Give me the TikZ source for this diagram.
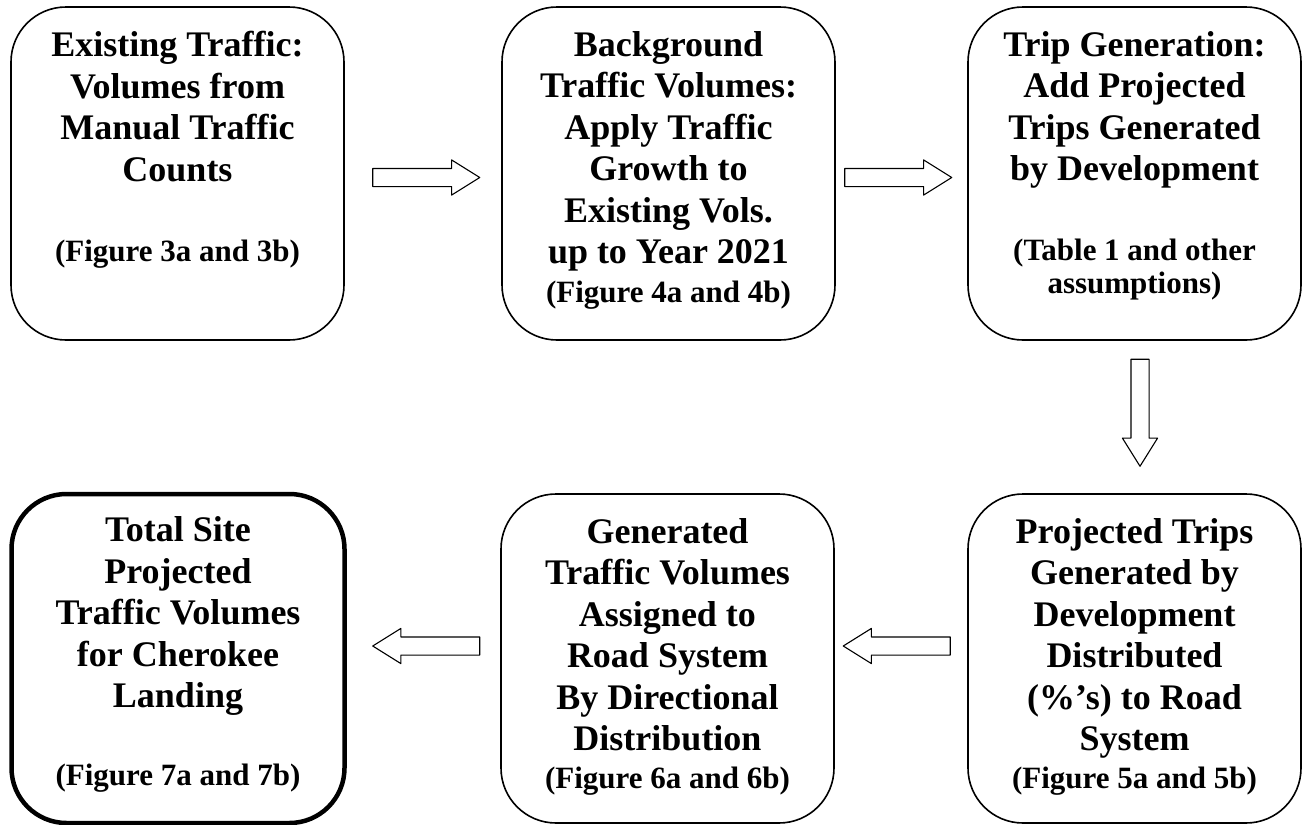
\documentclass[tikz,border=0pt]{standalone}
\usepackage{fontspec}
\setmainfont{Liberation Serif}
\usepackage{tikz}
\usetikzlibrary{shapes.arrows,positioning}
\newcommand{\mainsize}{\fontsize{36}{41.5}\selectfont\bfseries}
\newcommand{\figsize}{\fontsize{31}{36}\selectfont}
\tikzset{
  every picture/.style={line join=round, line cap=round},
  stepbox/.style={draw, rounded corners=55pt, line width=1.6pt, minimum width=333pt, minimum height=333pt, inner sep=0pt},
  lowbox/.style={stepbox, minimum height=329pt},
  finalbox/.style={lowbox, line width=4.5pt},
  boxtext/.style={align=center, font=\mainsize, inner sep=0pt},
  blockarrow/.style={draw, line width=1.1pt, single arrow, single arrow head extend=8.5pt,
    single arrow tip angle=64, inner xsep=0pt, inner ysep=8.5pt, minimum height=107pt},
}

\begin{document}
\begin{tikzpicture}[x=1pt,y=1pt]
\useasboundingbox (0,0) rectangle (1302,-825);
% top row
\node[stepbox] (exist) at (177.5,-173.5) {};
\node[stepbox] (backgr) at (668.5,-173.5) {};
\node[stepbox] (tripgen) at (1134.5,-173.5) {};
% bottom row
\node[lowbox] (distrib) at (1134.5,-658.5) {};
\node[lowbox] (assign) at (667.5,-658.5) {};
\node[finalbox] (total) at (178,-658.5) {};

\node[boxtext, below=25pt of exist.north] (exist-t) {Existing Traffic:\\ Volumes from\\ Manual Traffic\\ Counts\\[38.5pt] {\figsize (Figure 3a and 3b)}};
\node[boxtext, below=25pt of backgr.north] (backgr-t) {Background\\ Traffic Volumes:\\ Apply Traffic\\ Growth to\\ Existing Vols.\\ up to Year 2021\\[-2.5pt] {\figsize (Figure 4a and 4b)}};
\node[boxtext, below=25pt of tripgen.north] (tripgen-t) {Trip Generation:\\ Add Projected\\ Trips Generated\\ by Development\\[38.5pt] {\figsize (Table 1 and other}\\[-8.5pt] {\figsize assumptions)}};
\node[boxtext, below=25pt of distrib.north] (distrib-t) {Projected Trips\\ Generated by\\ Development\\ Distributed\\ (\%’s) to Road\\ System\\[-3.5pt] {\figsize (Figure 5a and 5b)}};
\node[boxtext, below=25pt of assign.north] (assign-t) {Generated\\ Traffic Volumes\\ Assigned to\\ Road System\\ By Directional\\ Distribution\\[-3.5pt] {\figsize (Figure 6a and 6b)}};
\node[boxtext, below=25pt of total.north] (total-t) {Total Site\\ Projected\\ Traffic Volumes\\ for Cherokee\\ Landing\\[36.5pt] {\figsize (Figure 7a and 7b)}};

% block arrows
\path (exist) -- node[blockarrow, xshift=-4pt, yshift=-4pt] (ar1) {} (backgr);
\path (backgr) -- node[blockarrow, xshift=-10.5pt, yshift=-4pt] (ar2) {} (tripgen);
\path (tripgen) -- node[blockarrow, rotate=-90, xshift=-11.5pt, yshift=5.5pt] (ar3) {} (distrib);
\path (distrib) -- node[blockarrow, shape border rotate=180, xshift=3pt, yshift=12.5pt] (ar4) {} (assign);
\path (assign) -- node[blockarrow, shape border rotate=180, xshift=10pt, yshift=12.5pt] (ar5) {} (total);
\end{tikzpicture}
\end{document}
